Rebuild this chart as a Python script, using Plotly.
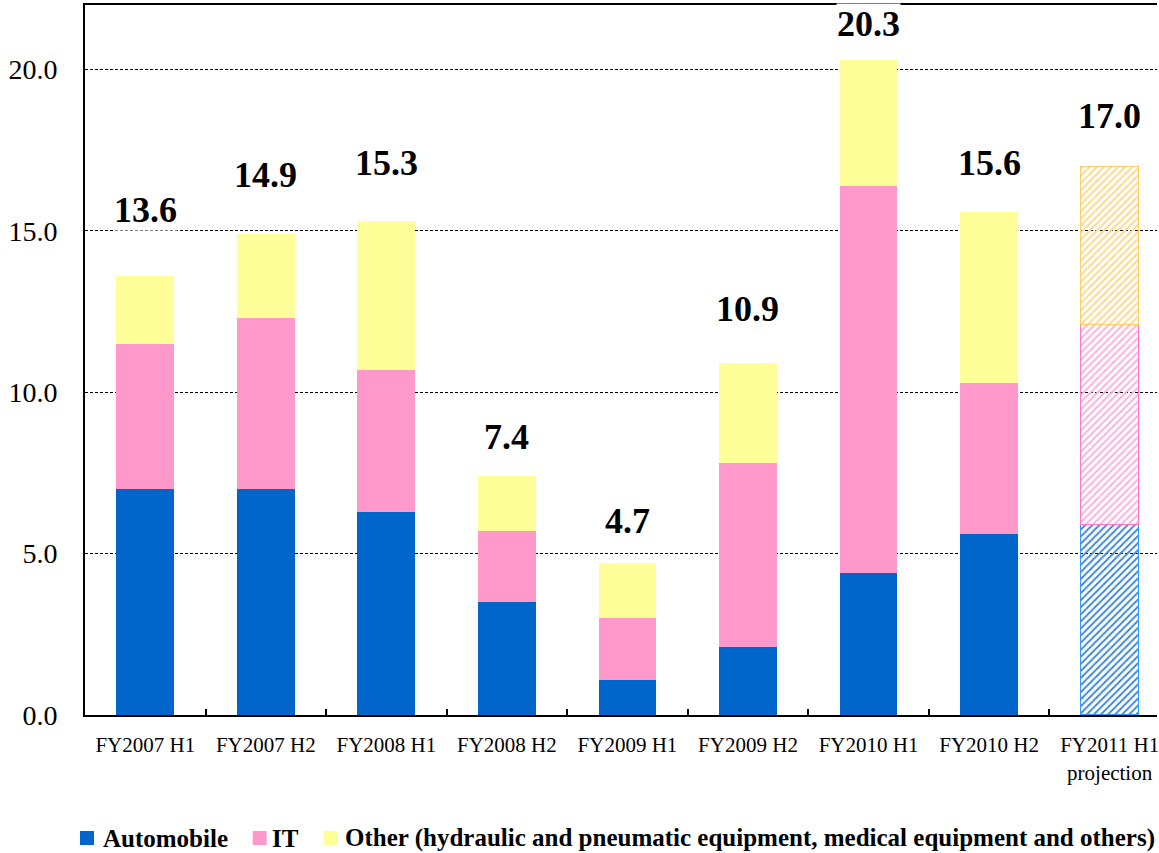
import plotly.graph_objects as go

# ---- data ----
categories = ["FY2007 H1", "FY2007 H2", "FY2008 H1", "FY2008 H2", "FY2009 H1",
              "FY2009 H2", "FY2010 H1", "FY2010 H2", "FY2011 H1<br>projection"]
automobile = [7.0, 7.0, 6.3, 3.5, 1.1, 2.1, 4.4, 5.6, 5.9]
it_values = [4.5, 5.3, 4.4, 2.2, 1.9, 5.7, 12.0, 4.7, 6.2]
other = [2.1, 2.6, 4.6, 1.7, 1.7, 3.1, 3.9, 5.3, 4.9]
totals = [13.6, 14.9, 15.3, 7.4, 4.7, 10.9, 20.3, 15.6, 17.0]
projection = [False] * 8 + [True]
series_names = ["Automobile", "IT",
                "Other (hydraulic and pneumatic equipment, medical equipment and others)"]

# label offsets above bar tops (data units), as placed in the original
label_offsets = [2.05, 1.83, 1.81, 1.21, 1.31, 1.68, 1.12, 1.51, 1.56]

# ---- styling ----
FONT = "Liberation Serif"
W, H = 1159, 853
ML, MR, MT, MB = 85, 0, 5, 138
colors = ["#0066CC", "#FF99CC", "#FFFF99"]
hatch_fg = ["#3F88DC", "#FFB0D8", "#FFD98A"]
hatch_line = ["#3399FF", "#FF77CC", "#FFCC66"]

fig = go.Figure()
for name, vals, col, hfg, hln in zip(series_names, [automobile, it_values, other],
                                     colors, hatch_fg, hatch_line):
    fig.add_trace(go.Bar(
        x=categories, y=vals, name=name, showlegend=False,
        width=0.48,
        marker=dict(
            color=[hfg if p else col for p in projection],
            line=dict(width=[1.5 if p else 0 for p in projection],
                      color=[hln if p else col for p in projection]),
            pattern=dict(shape=["/" if p else "" for p in projection],
                         fgcolor=[hfg if p else col for p in projection],
                         bgcolor="white", size=5, solidity=0.4,
                         fillmode="replace"),
        ),
        hoverinfo="x+y+name",
    ))

# total labels
for cat, tot, off in zip(categories, totals, label_offsets):
    fig.add_annotation(x=cat, y=tot + off, text=f"<b>{tot:.1f}</b>",
                       showarrow=False, xref="x", yref="y",
                       font=dict(family=FONT, size=36, color="black"),
                       bgcolor="white", borderpad=0)

# manual legend (single line, clipped at the right edge like the original)
pw = W - ML - MR
ph = H - MT - MB


def px_x(p):
    return (p - ML) / pw


def px_y(p):
    return (H - MB - p) / ph


legend_items = [(80, 101), (253, 270), (324, 343)]
for (sq_x, tx), name, col in zip(legend_items, series_names, colors):
    fig.add_shape(type="rect", xref="paper", yref="paper",
                  x0=px_x(sq_x), x1=px_x(sq_x + 14), y0=px_y(831), y1=px_y(845),
                  fillcolor=col, line=dict(width=0))
    fig.add_annotation(x=px_x(tx), y=px_y(838), xref="paper", yref="paper",
                       text=f"<b>{name}</b>", showarrow=False,
                       xanchor="left", yanchor="middle",
                       font=dict(family=FONT, size=25, color="black"))

fig.update_layout(
    width=W, height=H,
    margin=dict(l=ML, r=MR, t=MT, b=MB),
    barmode="stack",
    plot_bgcolor="white", paper_bgcolor="white",
    font=dict(family=FONT, color="black"),
    xaxis=dict(
        type="category", range=[-0.5, 8.393],
        showline=True, linecolor="black", linewidth=2, mirror=True,
        ticks="inside", tickson="boundaries", ticklen=6, tickwidth=1.5,
        tickcolor="black", showgrid=False,
        tickfont=dict(family=FONT, size=21, color="black"),
        ticklabelstandoff=10,
    ),
    yaxis=dict(
        range=[0, 22], dtick=5, tick0=0, tickformat=".1f",
        showline=True, linecolor="black", linewidth=2,
        showgrid=True, gridcolor="black", gridwidth=1, griddash="3px,2px",
        zeroline=False, ticks="",
        tickfont=dict(family=FONT, size=28, color="black"),
        ticklabelstandoff=20,
    ),
)

fig.write_html("out.html")
